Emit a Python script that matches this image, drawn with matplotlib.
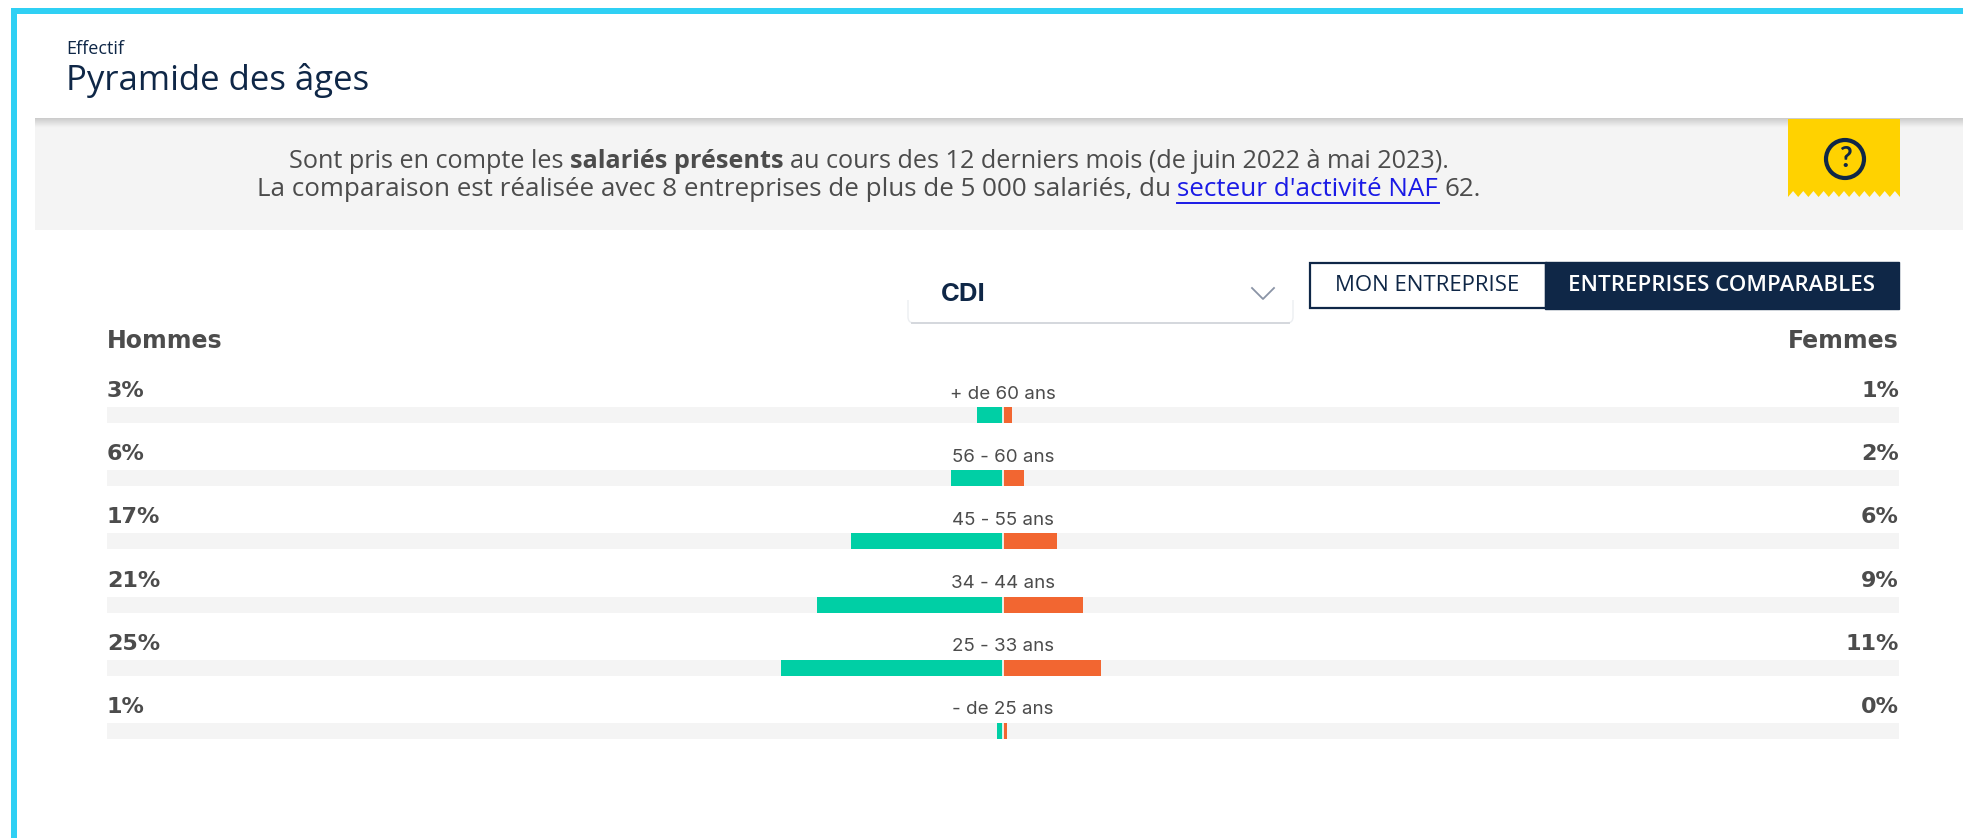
import numpy as np
import matplotlib
matplotlib.use("Agg")
from matplotlib import pyplot as plt
from matplotlib.patches import Rectangle, FancyBboxPatch, Polygon, Circle

ages = ["+ de 60 ans", "56 - 60 ans", "45 - 55 ans", "34 - 44 ans", "25 - 33 ans", "- de 25 ans"]
hommes_labels = ["3%", "6%", "17%", "21%", "25%", "1%"]
femmes_labels = ["1%", "2%", "6%", "9%", "11%", "0%"]
# bar lengths measured on the picture, in percent
hommes = [2.9, 5.8, 17.0, 20.8, 24.8, 0.7]
femmes = [1.0, 2.3, 6.0, 8.9, 10.9, 0.4]

W, H = 1963, 838
NAVY = "#0f2747"
GREY = "#4c4c4c"
BAND = "#f4f4f4"
GREEN = "#00cfa5"
ORANGE = "#f26631"
CYAN = "#2fd0f4"
YELLOW = "#ffd200"
LINK = "#1a1ae6"

plt.rcParams["font.family"] = ["Lato", "DejaVu Sans"]
fig = plt.figure(figsize=(W / 100, H / 100), dpi=100, facecolor="white")

# page furniture, in pixels of the screenshot
page = fig.add_axes([0, 0, 1, 1])
page.set_xlim(0, W)
page.set_ylim(H, 0)
page.axis("off")

page.add_patch(Rectangle((11, 8), W - 11, 6, color=CYAN, lw=0))
page.add_patch(Rectangle((11, 8), 6, H - 8, color=CYAN, lw=0))

page.add_patch(Rectangle((35, 120), W - 35, 110, color=BAND, lw=0))
shadow = np.linspace(0.80, 0.957, 10).reshape(-1, 1)
page.imshow(shadow, extent=(35, W, 128, 118), cmap="gray", vmin=0, vmax=1, aspect="auto", zorder=1)
page.set_xlim(0, W)
page.set_ylim(H, 0)

page.text(66, 49, "Effectif", fontsize=13, color=NAVY, va="center", family="Open Sans")
page.text(66, 80, "Pyramide des âges", fontsize=25, fontweight="medium", color=NAVY, va="center", family="Open Sans")


def draw_line(y, runs, xc, size):
    # centred line made of several styled pieces
    rend = fig.canvas.get_renderer()
    pieces = []
    total = 0
    for txt, weight, color in runs:
        t = page.text(0, y, txt, fontsize=size, fontweight=weight, color=color, va="center",
                      family="Open Sans")
        w = t.get_window_extent(rend).width
        pieces.append((t, w))
        total += w
    x = xc - total / 2
    for (t, w), (txt, weight, color) in zip(pieces, runs):
        t.set_x(x)
        if color == LINK:
            page.plot([x, x + w - 6], [y + 13, y + 13], color=LINK, lw=1.4)
        x += w


draw_line(161, [("Sont pris en compte les ", "normal", GREY), ("salariés présents ", "bold", GREY),
                ("au cours des 12 derniers mois (de juin 2022 à mai 2023).", "normal", GREY)], 869, 18.2)
draw_line(190, [("La comparaison est réalisée avec 8 entreprises de plus de 5 000 salariés, du ", "normal", GREY),
                ("secteur d'activité NAF ", "normal", LINK), ("62.", "normal", GREY)], 869, 18.75)

# yellow help tag with its serrated edge
teeth_x = np.linspace(1788, 1900, 23)
teeth_y = np.where(np.arange(23) % 2 == 0, 197, 191)
tag = [(1788, 119), (1900, 119)] + list(zip(teeth_x[::-1], teeth_y[::-1]))
page.add_patch(Polygon(tag, closed=True, color=YELLOW, lw=0, zorder=2))
page.add_patch(Circle((1845, 159), 19, fc="none", ec=NAVY, lw=3, zorder=3))
page.text(1845, 159, "?", fontsize=20, fontweight="bold", color=NAVY, ha="center", va="center", zorder=3)

# dropdown
page.add_patch(FancyBboxPatch((908, 262), 385, 61, boxstyle="round,pad=0,rounding_size=6",
                              fc="white", ec="#eceef1", lw=1))
page.plot([912, 1289], [323, 323], color="#d5d8dd", lw=1.4)
page.add_patch(Rectangle((907, 255), 387, 45, color="white", lw=0))
page.text(941, 294, "CDI", fontsize=18.5, fontweight="bold", color=NAVY, va="center", family="Inter")
page.plot([1252, 1263, 1274], [288, 299, 288], color="#8a94a6", lw=1.3)

# toggle
page.add_patch(Rectangle((1310, 263), 236, 45, fc="white", ec=NAVY, lw=1.6))
page.add_patch(Rectangle((1545, 262), 354, 47, fc=NAVY, ec=NAVY, lw=1))
page.text(1427, 285, "MON ENTREPRISE", fontsize=16, color=NAVY, ha="center", va="center", family="Open Sans")
page.text(1722, 285, "ENTREPRISES COMPARABLES", fontsize=16, fontweight="semibold", color="white",
          ha="center", va="center", family="Open Sans")

page.text(107, 341, "Hommes", fontsize=17, fontweight="bold", color=GREY, va="center", family="DejaVu Sans")
page.text(1899, 341, "Femmes", fontsize=17, fontweight="bold", color=GREY, ha="right", va="center",
          family="DejaVu Sans")

# pyramid: the grey tracks span -100 % to 100 %
left, right, top, bottom = 107, 1899, 383.7, 762.3
ax = fig.add_axes([left / W, 1 - bottom / H, (right - left) / W, (bottom - top) / H])
ax.patch.set_alpha(0)
ax.axis("off")
y = np.arange(len(ages))
ax.barh(y, [200] * len(y), left=-100, height=0.253, color=BAND, lw=0)
ax.barh(y, -np.array(hommes), height=0.253, color=GREEN, lw=0)
ax.barh(y, femmes, height=0.253, color=ORANGE, lw=0)
ax.vlines([0] * len(y), y - 0.127, y + 0.127, color="white", lw=1.2)
ax.set_xlim(-100, 100)
ax.set_ylim(5.5, -0.5)

for i in y:
    ax.annotate(ages[i], (0, i), xytext=(0, 21), textcoords="offset pixels", ha="center", va="center",
                fontsize=13.5, color=GREY, family="Inter")
    ax.annotate(hommes_labels[i], (-100, i), xytext=(0, 24), textcoords="offset pixels", ha="left", va="center",
                fontsize=16, fontweight="bold", color=GREY, family="DejaVu Sans")
    ax.annotate(femmes_labels[i], (100, i), xytext=(0, 24), textcoords="offset pixels", ha="right", va="center",
                fontsize=16, fontweight="bold", color=GREY, family="DejaVu Sans")

fig.savefig("out.png", dpi=100)
